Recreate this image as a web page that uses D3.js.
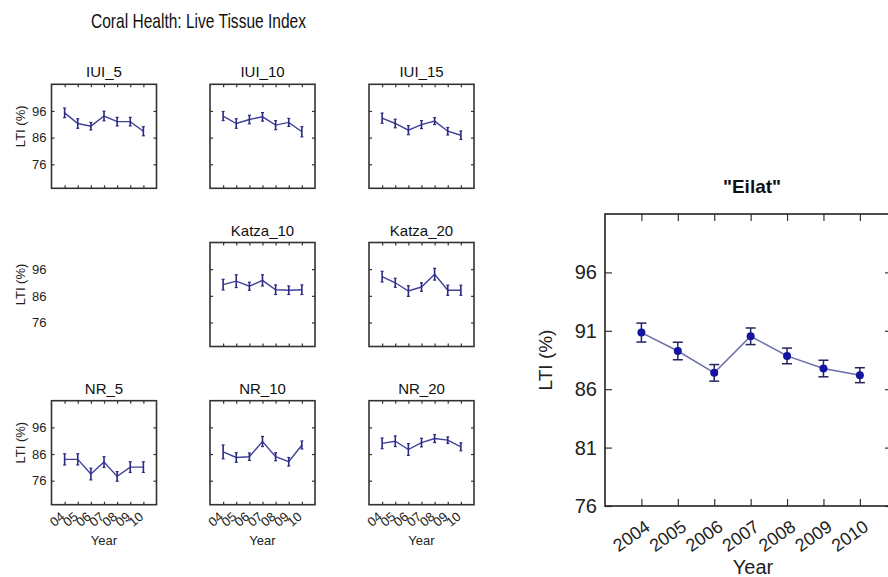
<!DOCTYPE html>
<html>
<head>
<meta charset="utf-8">
<script src="https://cdn.jsdelivr.net/npm/d3@7"></script>
<style>
  body { margin: 0; background: #fff; }
  svg { display: block; font-family: "Liberation Sans", Arial, sans-serif; }
</style>
</head>
<body>
<div id="chart"></div>
<script>
// data
var years = [2004, 2005, 2006, 2007, 2008, 2009, 2010];
var shortYears = ["04", "05", "06", "07", "08", "09", "10"];
var smallTicks = [96, 86, 76];
var mainTicks = [76, 81, 86, 91, 96];

var iui5 = [95.3, 91.3, 90.3, 94.1, 92.0, 92.0, 88.4];
var iui5Err = [1.8, 1.8, 1.4, 1.8, 1.6, 1.6, 1.7];
var iui10 = [94.1, 91.3, 92.8, 93.8, 90.7, 91.7, 88.2];
var iui10Err = [1.7, 1.8, 1.6, 1.6, 1.7, 1.5, 1.9];
var iui15 = [93.3, 91.3, 88.8, 90.9, 92.2, 88.4, 86.9];
var iui15Err = [1.9, 1.6, 1.7, 1.5, 1.3, 1.4, 1.6];
var katza10 = [90.2, 91.5, 89.6, 91.8, 88.3, 88.1, 88.3];
var katza10Err = [2.0, 2.4, 1.5, 2.1, 1.8, 1.6, 1.8];
var katza20 = [93.2, 90.9, 87.8, 89.3, 94.1, 88.1, 88.1];
var katza20Err = [2.0, 1.7, 2.0, 1.6, 2.2, 1.9, 1.9];
var nr5 = [84.0, 84.0, 78.5, 83.0, 77.6, 81.1, 81.1];
var nr5Err = [2.1, 2.1, 2.2, 2.0, 1.8, 2.0, 2.0];
var nr10 = [86.8, 84.7, 85.0, 90.7, 85.0, 83.1, 89.4];
var nr10Err = [2.6, 1.8, 1.4, 1.9, 1.5, 1.6, 1.5];
var nr20 = [90.0, 90.8, 87.7, 90.3, 91.8, 91.2, 88.7];
var nr20Err = [2.0, 2.0, 2.2, 1.6, 1.5, 1.2, 1.5];

var eilat = [90.85, 89.27, 87.4, 90.53, 88.85, 87.77, 87.2];
var eilatErr = [0.81, 0.75, 0.71, 0.71, 0.67, 0.71, 0.64];

var panels = [
  { name: "IUI_5", mean: iui5, err: iui5Err, row: 0, col: 0 },
  { name: "IUI_10", mean: iui10, err: iui10Err, row: 0, col: 1 },
  { name: "IUI_15", mean: iui15, err: iui15Err, row: 0, col: 2 },
  { name: "Katza_10", mean: katza10, err: katza10Err, row: 1, col: 1 },
  { name: "Katza_20", mean: katza20, err: katza20Err, row: 1, col: 2 },
  { name: "NR_5", mean: nr5, err: nr5Err, row: 2, col: 0 },
  { name: "NR_10", mean: nr10, err: nr10Err, row: 2, col: 1 },
  { name: "NR_20", mean: nr20, err: nr20Err, row: 2, col: 2 }
];

var svgWidth = 888;
var svgHeight = 577;

var svg = d3.select("#chart")
  .append("svg")
  .attr("width", svgWidth)
  .attr("height", svgHeight);

var axisColor = "#333";
var smallLine = "#40409a";

svg.append("text")
  .attr("x", 91)
  .attr("y", 28)
  .attr("font-size", "21px")
  .attr("fill", "#111")
  .attr("textLength", 215)
  .attr("lengthAdjust", "spacingAndGlyphs")
  .text("Coral Health: Live Tissue Index");

// small multiples
var colLeft = [51.5, 210, 369];
var rowTop = [84.3, 242.5, 400.7];
var pw = 105;
var ph = 104;

var xSmall = d3.scaleLinear().domain([2003, 2011]).range([0, pw]);
var ySmall = d3.scaleLinear().domain([67, 106]).range([ph, 0]);

function styleAxis(g) {
  g.select(".domain").remove();
  g.selectAll(".tick line").attr("stroke", axisColor).attr("stroke-width", 1.2);
  g.selectAll("text").attr("font-family", "Liberation Sans, Arial, sans-serif").attr("fill", "#222");
}

// left column y labels (also for the empty middle-left slot)
rowTop.forEach(function (top) {
  var g = svg.append("g").attr("transform", `translate(${colLeft[0]}, ${top})`);
  g.append("g")
    .call(d3.axisLeft(ySmall).tickValues(smallTicks).tickSize(0).tickPadding(5))
    .call(styleAxis)
    .selectAll("text").attr("font-size", "13px");
  g.append("text")
    .attr("transform", `translate(-27, 42) rotate(-90)`)
    .attr("text-anchor", "middle")
    .attr("font-size", "13px")
    .attr("fill", "#222")
    .text("LTI (%)");
});

panels.forEach(function (p) {
  var g = svg.append("g")
    .attr("transform", `translate(${colLeft[p.col]}, ${rowTop[p.row]})`);

  g.append("text")
    .attr("x", pw / 2)
    .attr("y", -7)
    .attr("text-anchor", "middle")
    .attr("font-size", "15px")
    .attr("fill", "#111")
    .text(p.name);

  var bottomAxis = g.append("g")
    .attr("transform", `translate(0, ${ph})`)
    .call(d3.axisBottom(xSmall).tickValues(years).tickSize(-3)
      .tickFormat((d, i) => p.row === 2 ? shortYears[i] : ""))
    .call(styleAxis);

  g.append("g")
    .call(d3.axisTop(xSmall).tickValues(years).tickSize(-3).tickFormat(""))
    .call(styleAxis);
  g.append("g")
    .call(d3.axisLeft(ySmall).tickValues(smallTicks).tickSize(-3).tickFormat(""))
    .call(styleAxis);
  g.append("g")
    .attr("transform", `translate(${pw}, 0)`)
    .call(d3.axisRight(ySmall).tickValues(smallTicks).tickSize(-3).tickFormat(""))
    .call(styleAxis);

  if (p.row === 2) {
    bottomAxis.selectAll("text")
      .attr("font-size", "13px")
      .attr("text-anchor", "middle")
      .attr("y", 0)
      .attr("dy", 0)
      .attr("transform", "translate(-5, 18) rotate(-40)");
    g.append("text")
      .attr("x", pw / 2)
      .attr("y", ph + 40)
      .attr("text-anchor", "middle")
      .attr("font-size", "13px")
      .attr("fill", "#222")
      .text("Year");
  }

  g.append("rect")
    .attr("width", pw)
    .attr("height", ph)
    .attr("fill", "none")
    .attr("stroke", axisColor)
    .attr("stroke-width", 1.6);

  var line = d3.line()
    .x((d, i) => xSmall(years[i]))
    .y(d => ySmall(d));

  g.append("path")
    .datum(p.mean)
    .attr("d", line)
    .attr("fill", "none")
    .attr("stroke", smallLine)
    .attr("stroke-width", 1.4);

  var bars = g.selectAll(".err")
    .data(p.mean)
    .enter()
    .append("g");
  bars.append("line")
    .attr("x1", (d, i) => xSmall(years[i]))
    .attr("x2", (d, i) => xSmall(years[i]))
    .attr("y1", (d, i) => ySmall(d + p.err[i]))
    .attr("y2", (d, i) => ySmall(d - p.err[i]))
    .attr("stroke", "#2a2a80")
    .attr("stroke-width", 1.6);
  [1, -1].forEach(function (s) {
    bars.append("line")
      .attr("x1", (d, i) => xSmall(years[i]) - 1.5)
      .attr("x2", (d, i) => xSmall(years[i]) + 1.5)
      .attr("y1", (d, i) => ySmall(d + s * p.err[i]))
      .attr("y2", (d, i) => ySmall(d + s * p.err[i]))
      .attr("stroke", "#2a2a80")
      .attr("stroke-width", 1.2);
  });
});

// main chart: Eilat
var mLeft = 605, mRight = 889, mTop = 214, mBottom = 506;

var xMain = d3.scaleLinear().domain([2003, 2010.8]).range([mLeft, mRight]);
var yMain = d3.scaleLinear().domain([76, 101]).range([mBottom, mTop]);

var mainG = svg.append("g");

mainG.append("text")
  .attr("x", 752)
  .attr("y", 193)
  .attr("text-anchor", "middle")
  .attr("font-size", "19px")
  .attr("font-weight", "bold")
  .attr("fill", "#111")
  .text("\"Eilat\"");

var mBottomAxis = mainG.append("g")
  .attr("transform", `translate(0, ${mBottom})`)
  .call(d3.axisBottom(xMain).tickValues(years).tickSize(-7).tickFormat(d3.format("d")))
  .call(styleAxis);
mBottomAxis.selectAll("text")
  .attr("font-size", "18px")
  .attr("text-anchor", "middle")
  .attr("y", 0)
  .attr("dy", 0)
  .attr("transform", "translate(-7, 35) rotate(-35)");

mainG.append("g")
  .attr("transform", `translate(0, ${mTop})`)
  .call(d3.axisTop(xMain).tickValues(years).tickSize(-7).tickFormat(""))
  .call(styleAxis);

var mLeftAxis = mainG.append("g")
  .attr("transform", `translate(${mLeft}, 0)`)
  .call(d3.axisLeft(yMain).tickValues(mainTicks).tickSize(-7).tickPadding(8))
  .call(styleAxis);
mLeftAxis.selectAll("text").attr("font-size", "20px");

mainG.append("g")
  .attr("transform", `translate(${mRight}, 0)`)
  .call(d3.axisRight(yMain).tickValues(mainTicks).tickSize(-4).tickFormat(""))
  .call(styleAxis);

mainG.append("rect")
  .attr("x", mLeft)
  .attr("y", mTop)
  .attr("width", mRight - mLeft)
  .attr("height", mBottom - mTop)
  .attr("fill", "none")
  .attr("stroke", "#222")
  .attr("stroke-width", 1.6);

mainG.append("text")
  .attr("transform", `translate(552, ${(mTop + mBottom) / 2}) rotate(-90)`)
  .attr("text-anchor", "middle")
  .attr("font-size", "19px")
  .attr("fill", "#222")
  .text("LTI (%)");

mainG.append("text")
  .attr("x", 753)
  .attr("y", 574)
  .attr("text-anchor", "middle")
  .attr("font-size", "20px")
  .attr("fill", "#222")
  .text("Year");

var mainLine = d3.line()
  .x((d, i) => xMain(years[i]))
  .y(d => yMain(d));

mainG.append("path")
  .datum(eilat)
  .attr("d", mainLine)
  .attr("fill", "none")
  .attr("stroke", "#6a6eaa")
  .attr("stroke-width", 1.5);

var mBars = mainG.selectAll(".merr")
  .data(eilat)
  .enter()
  .append("g");
mBars.append("line")
  .attr("x1", (d, i) => xMain(years[i]))
  .attr("x2", (d, i) => xMain(years[i]))
  .attr("y1", (d, i) => yMain(d + eilatErr[i]))
  .attr("y2", (d, i) => yMain(d - eilatErr[i]))
  .attr("stroke", "#23235e")
  .attr("stroke-width", 1.5);
[1, -1].forEach(function (s) {
  mBars.append("line")
    .attr("x1", (d, i) => xMain(years[i]) - 5)
    .attr("x2", (d, i) => xMain(years[i]) + 5)
    .attr("y1", (d, i) => yMain(d + s * eilatErr[i]))
    .attr("y2", (d, i) => yMain(d + s * eilatErr[i]))
    .attr("stroke", "#23235e")
    .attr("stroke-width", 1.5);
});

mainG.selectAll(".dot")
  .data(eilat)
  .enter()
  .append("circle")
  .attr("cx", (d, i) => xMain(years[i]))
  .attr("cy", d => yMain(d))
  .attr("r", 4)
  .attr("fill", "#1414a0");
</script>
</body>
</html>
